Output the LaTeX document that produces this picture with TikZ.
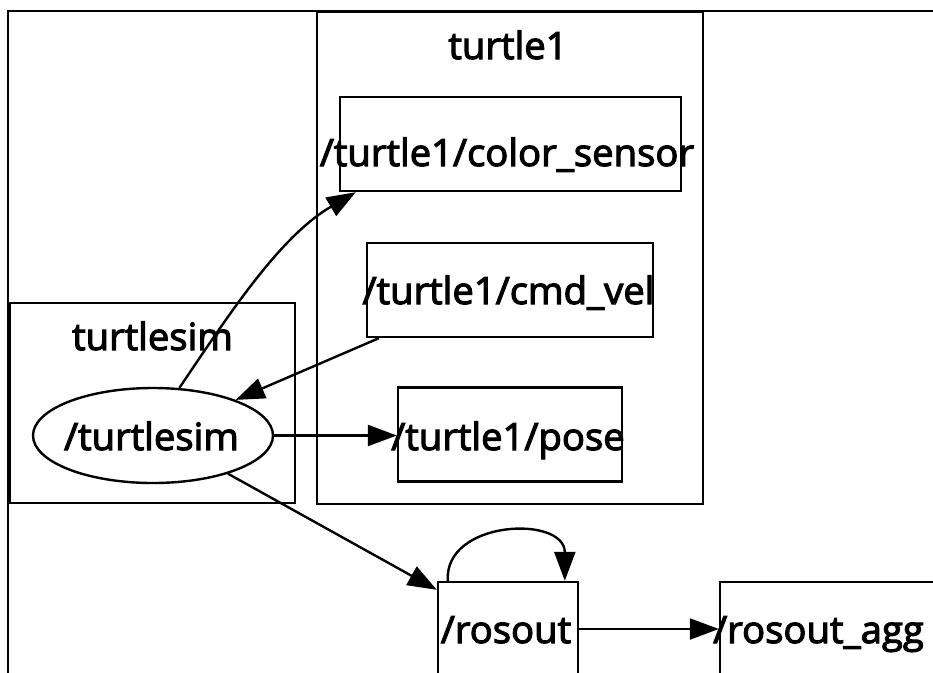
\documentclass[tikz,border=0pt]{standalone}
\usepackage{fontspec}
\setmainfont[FakeBold=3,FakeStretch=1.02]{Open Sans}
\usetikzlibrary{arrows.meta,shapes.geometric,calc}
\begin{document}
\begin{tikzpicture}[x=1pt,y=-1pt,
  every node/.style={font=\fontsize{37.5}{40}\selectfont},
  box/.style={draw, line width=2.4pt, rectangle, inner sep=0pt, minimum height=94pt},
  cluster/.style={draw, line width=2.4pt, rectangle, inner sep=0pt},
  lbl/.style={anchor=base, inner sep=0pt},
  edge/.style={line width=2.4pt, -{Triangle[length=29pt,width=21pt]}}
]
\useasboundingbox (0,0) rectangle (933,672);
\clip (0,0) rectangle (933,672);
% outer frame
\draw[line width=2.4pt] (8,690) -- (8,11) -- (950,11);
% clusters
\node[cluster, minimum width=386pt, minimum height=492pt] (c1) at (510,258) {};
\node[lbl] (c1t) at (508,59) {turtle1};
\node[cluster, minimum width=285pt, minimum height=200pt] (c2) at (152.5,403) {};
\node[lbl] (c2t) at (152.5,350) {turtlesim};
% topic boxes
\node[box, minimum width=341pt] (cs) at (510.5,144) {};
\node[lbl] (cst) at (507,166) {/turtle1/color\_sensor};
\node[box, minimum width=286pt] (cv) at (510,290) {};
\node[lbl] (cvt) at (508.5,304) {/turtle1/cmd\_vel};
\node[box, minimum width=224pt] (ps) at (510,434.5) {};
\node[lbl] (pst) at (508,450) {/turtle1/pose};
% node ellipse
\node[draw, ellipse, line width=2.4pt, inner sep=0pt, minimum width=240pt, minimum height=95pt] (ts) at (153,435.5) {};
\node[lbl] (tst) at (151.5,450) {/turtlesim};
% rosout
\node[box, minimum width=140pt] (ro) at (508,629) {};
\node[lbl] (rot) at (506,643) {/rosout};
\node[box, minimum width=230pt] (agg) at (835,629) {};
\node[lbl, anchor=base west] (aggt) at (713,643) {/rosout\_agg};
% edges
\draw[edge] (ts.61) .. controls (228,316) and (279,237) .. ($(cs.south west)+(17,0)$);
\draw[edge] ($(cv.south west)+(13,0)$) -- (ts);
\draw[edge] (ts.east) -- (ts.east -| ps.west);
\draw[edge] (ts.-27) -- ($(ro.north west)+(0,9)$);
\draw[edge] ($(ro.north west)+(11,0)$) .. controls +(-4,-61) and +(0,-66) .. ($(ro.north west)+(128,0)$);
\draw[edge] (ro.east) -- (ro.east -| agg.west);
\end{tikzpicture}
\end{document}
